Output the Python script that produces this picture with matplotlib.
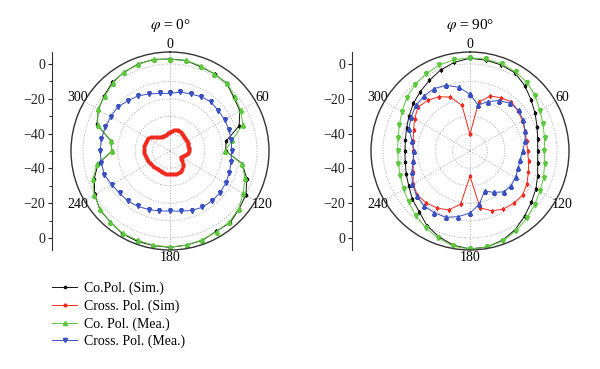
import numpy as np
import matplotlib
matplotlib.use("Agg")
import matplotlib.pyplot as plt
from matplotlib.lines import Line2D

plt.rcParams['font.family'] = ['Liberation Serif', 'DejaVu Serif']
plt.rcParams['mathtext.fontset'] = 'stix'

# angles (deg) of the measured / simulated samples
ang10 = np.arange(0, 360, 10)
ang5 = np.arange(0, 360, 5)

# phi = 0 deg cut (dB)
co_sim_0 = [2.9, 2.8, 1.5, 1.2, 0.7, -2.1, -3.7, -7.7, -17.3, -18.0, -7.8, -3.0,
            0.4, 1.8, 3.8, 3.2, 4.6, 4.9, 5.4, 5.2, 5.2, 4.8, 3.3, 2.6,
            0.0, -3.7, -8.0, -16.7, -15.3, -5.3, -2.5, -0.6, 1.5, 2.4, 3.3, 3.4]
co_mea_0 = [2.6, 2.9, 2.0, 1.0, 1.0, -1.5, -3.0, -5.5, -13.6, -18.4, -8.0, -4.1,
            -1.5, 1.5, 3.2, 3.5, 4.3, 5.0, 5.2, 5.0, 4.6, 4.5, 3.5, 2.2,
            0.4, -2.8, -7.5, -16.7, -15.3, -5.8, -2.0, -1.0, 1.0, 2.6, 3.0, 3.6]
x_sim_0 = [-39.0, -38.5, -38.0, -37.5, -37.3, -37.4, -37.7, -38.0, -38.3, -38.5, -38.7, -38.8,
           -38.9, -38.9, -38.9, -39.0, -39.0, -39.1, -39.2, -39.4, -40.2, -41.0, -42.0, -42.5,
           -42.6, -42.2, -41.3, -39.5, -38.4, -37.5, -36.9, -36.5, -36.3, -36.4, -36.5, -36.6,
           -36.6, -36.7, -36.8, -37.0, -37.3, -37.6, -37.7, -37.7, -37.5, -37.3, -37.0, -36.7,
           -36.4, -36.1, -35.9, -35.6, -35.3, -35.2, -35.0, -35.0, -35.0, -35.0, -35.1, -35.3,
           -35.6, -36.4, -37.4, -38.6, -39.5, -40.0, -40.4, -40.6, -40.7, -40.5, -40.1, -39.6]
x_mea_0 = [-16.9, -15.6, -15.1, -14.0, -13.3, -13.8, -13.8, -14.0, -14.2, -14.6, -14.3, -13.7,
           -13.0, -12.6, -12.5, -12.7, -13.6, -14.9, -15.5, -15.0, -14.2, -13.2, -12.4, -12.2,
           -11.3, -9.9, -9.9, -9.8, -10.0, -10.4, -10.7, -10.7, -12.3, -13.4, -15.1, -16.4]

# phi = 90 deg cut (dB)
co_sim_90 = [3.3, 3.0, 2.6, 1.8, -1.0, -4.2, -6.8, -9.0, -10.5, -11.1, -10.5, -8.6,
             -6.3, -4.0, -1.2, 2.1, 4.6, 6.0, 6.3, 5.0, 2.4, -0.5, -4.5, -6.8,
             -9.4, -11.0, -12.2, -12.6, -12.3, -11.2, -9.6, -7.5, -5.5, -3.2, -0.5, 1.8]
co_mea_90 = [3.6, 3.6, 3.4, 2.5, 1.3, -1.0, -3.5, -5.3, -6.5, -7.3, -6.5, -5.0,
             -3.6, -1.6, 0.6, 3.0, 5.0, 6.1, 6.3, 5.6, 3.3, 1.0, -1.5, -4.0,
             -6.0, -7.4, -8.2, -8.4, -8.0, -6.8, -4.8, -2.5, -0.5, 1.0, 2.4, 3.3]
x_sim_90 = [-40.4, -21.5, -16.4, -14.6, -13.1, -14.0, -15.2, -16.3, -17.0, -16.9, -15.8, -14.3,
            -12.2, -10.6, -10.8, -11.5, -13.4, -16.9, -35.6, -19.0, -13.9, -12.2, -11.0, -10.5,
            -12.3, -15.2, -16.9, -17.4, -16.8, -15.5, -13.2, -10.9, -12.1, -14.0, -17.0, -23.4]
x_mea_90 = [-17.4, -23.2, -19.8, -16.5, -14.2, -13.6, -14.6, -16.4, -17.8, -19.8, -20.8, -20.6,
            -19.8, -19.1, -19.4, -22.5, -25.5, -19.0, -14.4, -11.7, -9.4, -9.0, -8.8, -10.0,
            -11.8, -14.3, -17.0, -17.6, -16.2, -12.6, -11.0, -9.3, -8.8, -8.6, -9.8, -12.8]

labels = ['Co.Pol. (Sim.)', 'Cross. Pol. (Sim)', 'Co. Pol. (Mea.)', 'Cross. Pol. (Mea.)']
c_black, c_red, c_green, c_blue = '#111111', '#f02a1e', '#5cc83c', '#3a50c0'

R_MIN, R_MAX = -50, 6.9


def closed(ang, vals):
    a = np.deg2rad(np.append(ang, ang[0]))
    v = np.append(vals, vals[0]) - R_MIN
    return a, v


def setup_polar(ax):
    ax.set_theta_zero_location('N')
    ax.set_theta_direction(-1)
    ax.set_ylim(0, R_MAX - R_MIN)
    ax.set_yticks([10, 20, 30, 40, 50])
    ax.set_yticklabels([])
    ax.set_thetagrids([0, 60, 120, 180, 240, 300], ['0', '60', '120', '180', '240', '300'],
                      fontsize=10)
    ax.tick_params(axis='x', pad=-5)
    ax.grid(True, color='#aaaaaa', linestyle=':', linewidth=0.7)
    ax.spines['polar'].set_color('#333333')
    ax.spines['polar'].set_linewidth(1.0)


def radial_scale(fig, x, bottom, height):
    axr = fig.add_axes([x, bottom, 0.0001, height])
    axr.set_ylim(-(R_MAX - R_MIN), R_MAX - R_MIN)
    for s in ['top', 'right', 'bottom']:
        axr.spines[s].set_visible(False)
    axr.spines['left'].set_color('#333333')
    axr.set_xticks([])
    axr.set_yticks([50, 30, 10, -10, -30, -50])
    axr.set_yticklabels(['0', '\u221220', '\u221240', '\u221240', '\u221220', '0'], fontsize=10)
    axr.set_yticks([40, 20, 0, -20, -40], minor=True)
    axr.tick_params(axis='y', length=3, width=0.8, pad=2, colors='#222222')
    axr.tick_params(axis='y', which='minor', length=2, width=0.6)


fig = plt.figure(figsize=(6, 3.69), dpi=100)
W, H = 600, 369
ax_w, ax_h = 198 / W, 198 / H
bottom = (H - 250) / H

axL = fig.add_axes([71 / W, bottom, ax_w, ax_h], projection='polar')
axR = fig.add_axes([371 / W, bottom, ax_w, ax_h], projection='polar')
for ax in (axL, axR):
    setup_polar(ax)

lw = 0.7
kw_tri = dict(linewidth=lw, markersize=3)
kw_sq = dict(linewidth=lw, markersize=2)
axL.plot(*closed(ang10, co_sim_0), color=c_black, marker='s', **kw_sq)
axL.plot(*closed(ang5, x_sim_0), color=c_red, marker='o', **kw_sq)
axL.plot(*closed(ang10, co_mea_0), color=c_green, marker='^', **kw_tri)
axL.plot(*closed(ang10, x_mea_0), color=c_blue, marker='v', **kw_tri)

axR.plot(*closed(ang10, co_sim_90), color=c_black, marker='s', **kw_sq)
axR.plot(*closed(ang10, x_sim_90), color=c_red, marker='s', **kw_sq)
axR.plot(*closed(ang10, co_mea_90), color=c_green, marker='v', **kw_tri)
axR.plot(*closed(ang10, x_mea_90), color=c_blue, marker='^', **kw_tri)

radial_scale(fig, 52 / W, bottom, ax_h)
radial_scale(fig, 352 / W, bottom, ax_h)

fig.text(170 / W, 1 - 25 / H, '$\\varphi$ = 0°', ha='center', va='center', fontsize=11)
fig.text(470 / W, 1 - 25 / H, '$\\varphi$ = 90°', ha='center', va='center', fontsize=11)

handles = [Line2D([], [], color=c_black, marker='s', **kw_sq),
           Line2D([], [], color=c_red, marker='o', **kw_sq),
           Line2D([], [], color=c_green, marker='^', **kw_tri),
           Line2D([], [], color=c_blue, marker='v', **kw_tri)]
fig.legend(handles, labels, loc='upper left', bbox_to_anchor=(52 / W, 1 - 282 / H),
           frameon=False, fontsize=10, handlelength=1.8, handletextpad=0.5,
           labelspacing=0.3, borderpad=0, borderaxespad=0)

fig.savefig('out.png', dpi=100)
